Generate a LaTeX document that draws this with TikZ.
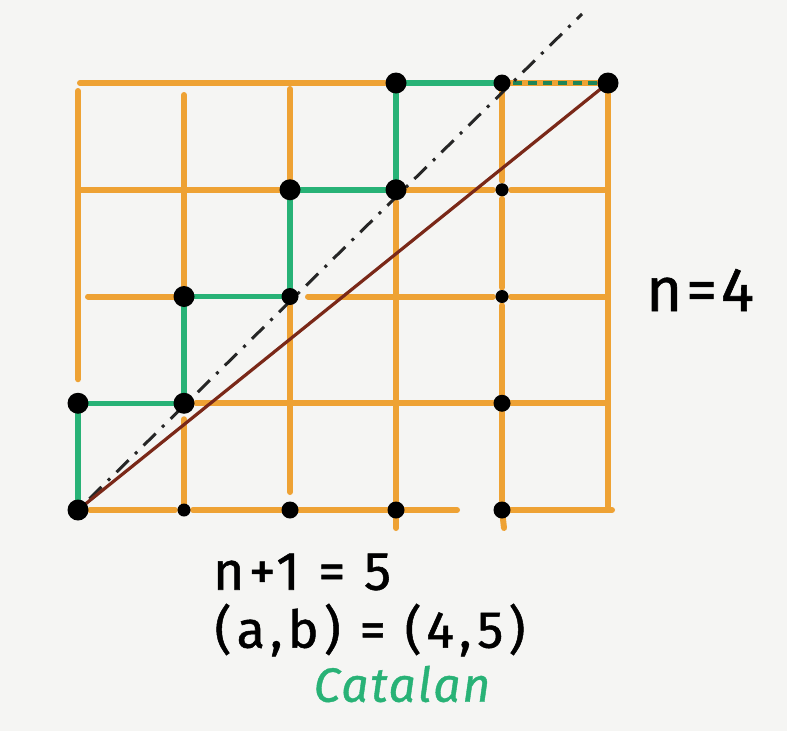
\documentclass[tikz,border=0pt]{standalone}
\usepackage{fontspec}
\setmainfont{Fira Sans}
\definecolor{paper}{RGB}{245,245,243}
\definecolor{gridorange}{RGB}{238,162,52}
\definecolor{pathgreen}{RGB}{40,178,118}
\definecolor{diagbrown}{RGB}{122,40,24}
\begin{document}
\begin{tikzpicture}[x=1pt,y=-1pt,
  orangeedge/.style={draw=gridorange, line width=6pt, line cap=round, shorten <=9pt, shorten >=9pt},
  greenedge/.style={draw=pathgreen, line width=5.5pt, line cap=round, shorten <=5pt, shorten >=5pt},
  dashgreen/.style={draw=pathgreen!75!black, line width=4pt, dash pattern=on 9pt off 6pt, shorten <=11pt, shorten >=11pt},
  diagline/.style={draw=black!85, line width=3pt, dash pattern=on 17pt off 9pt on 3pt off 9pt, shorten <=16pt},
  brownline/.style={draw=diagbrown, line width=3.2pt},
  bigdot/.style={circle, fill=black, inner sep=0pt, minimum size=21pt},
  middot/.style={circle, fill=black, inner sep=0pt, minimum size=17pt},
  smalldot/.style={circle, fill=black, inner sep=0pt, minimum size=13pt},
  handtext/.style={text=black, inner sep=0pt}
]
\fill[paper] (0,0) rectangle (787,731);
\useasboundingbox (0,0) rectangle (787,731);

% lattice coordinates
\foreach \i in {0,...,5}{
  \foreach \j in {0,...,4}{
    \coordinate (p-\i-\j) at ({78+106*\i},{510-106.75*\j});
  }
}
\coordinate (stub3) at (396,528);
\coordinate (stub4) at (504,528);
\coordinate (diagend) at (582,14);

% orange grid, horizontal strokes
\draw[orangeedge, shorten <=2pt, shorten >=11pt] (p-0-4) -- (p-3-4);
\draw[orangeedge, shorten <=0pt, shorten >=0pt] (p-4-4) -- (p-5-4);
\draw[orangeedge, shorten <=2pt] (p-0-3) -- (p-2-3);
\draw[orangeedge] (p-3-3) -- (p-4-3);
\draw[orangeedge, shorten >=2pt] (p-4-3) -- (p-5-3);
\draw[orangeedge, shorten <=10pt] (p-0-2) -- (p-1-2);
\draw[orangeedge, shorten <=18pt] (p-2-2) -- (p-4-2);
\draw[orangeedge, shorten >=2pt] (p-4-2) -- (p-5-2);
\draw[orangeedge, shorten <=12pt] (p-1-1) -- (p-4-1);
\draw[orangeedge, shorten >=2pt] (p-4-1) -- (p-5-1);
\draw[orangeedge, shorten <=12pt] (p-0-0) -- (p-1-0);
\draw[orangeedge] (p-1-0) -- (p-2-0);
\draw[orangeedge] (p-2-0) -- (p-3-0);
\draw[orangeedge, shorten >=45pt] (p-3-0) -- (p-4-0);
\draw[orangeedge, shorten >=-4pt] (p-4-0) -- (p-5-0);
% orange grid, vertical strokes
\draw[orangeedge, shorten <=8pt, shorten >=24pt] (p-0-4) -- (p-0-1);
\draw[orangeedge, shorten <=12pt] (p-1-4) -- (p-1-2);
\draw[orangeedge, shorten <=16pt, shorten >=0pt] (p-1-1) -- (p-1-0);
\draw[orangeedge, shorten <=6pt] (p-2-4) -- (p-2-3);
\draw[orangeedge, shorten >=18pt] (p-2-2) -- (p-2-0);
\draw[orangeedge, shorten <=12pt, shorten >=0pt] (p-3-3) -- (stub3);
\draw[orangeedge] (p-4-4) -- (p-4-3);
\draw[orangeedge] (p-4-3) -- (p-4-2);
\draw[orangeedge] (p-4-2) -- (p-4-1);
\draw[orangeedge] (p-4-1) -- (p-4-0);
\draw[orangeedge, shorten <=0pt, shorten >=0pt] (p-4-0) -- (stub4);
\draw[orangeedge, shorten <=0pt, shorten >=0pt, line cap=butt] (p-5-4) -- (p-5-0);

% green lattice path
\draw[greenedge] (p-0-0) -- (p-0-1);
\draw[greenedge] (p-0-1) -- (p-1-1);
\draw[greenedge] (p-1-1) -- (p-1-2);
\draw[greenedge] (p-1-2) -- (p-2-2);
\draw[greenedge] (p-2-2) -- (p-2-3);
\draw[greenedge] (p-2-3) -- (p-3-3);
\draw[greenedge] (p-3-3) -- (p-3-4);
\draw[greenedge] (p-3-4) -- (p-4-4);
\draw[dashgreen] (p-4-4) -- (p-5-4);

% diagonals
\draw[diagline] (p-0-0) -- (diagend);
\draw[brownline] (p-0-0) -- (p-5-4);

% dots
\foreach \i/\j in {0/0,0/1,1/1,1/2,2/3,3/3,3/4,5/4}{
  \node[bigdot] (d-\i-\j) at (p-\i-\j) {};
}
\foreach \i/\j in {2/0,3/0,4/0,4/1,2/2,4/4}{
  \node[middot] (d-\i-\j) at (p-\i-\j) {};
}
\foreach \i/\j in {1/0,4/2,4/3}{
  \node[smalldot] (d-\i-\j) at (p-\i-\j) {};
}

% labels
\node[handtext, font=\fontsize{62}{66}\selectfont\addfontfeatures{LetterSpace=6,FakeBold=1}] (nlabel) at (700,290) {n=4};
\node[handtext, font=\fontsize{54}{58}\selectfont\addfontfeatures{LetterSpace=8,FakeBold=1}] (nplus) at (302,572) {n+1 = 5};
\node[handtext, font=\fontsize{52}{56}\selectfont\addfontfeatures{LetterSpace=10,FakeBold=1}] (ab) at (370,630) {(a,b) = (4,5)};
\node[handtext, text=pathgreen, font=\fontsize{48}{52}\selectfont\itshape\addfontfeatures{LetterSpace=4,FakeBold=0.8}] (catalan) at (402,684) {Catalan};
\end{tikzpicture}
\end{document}
